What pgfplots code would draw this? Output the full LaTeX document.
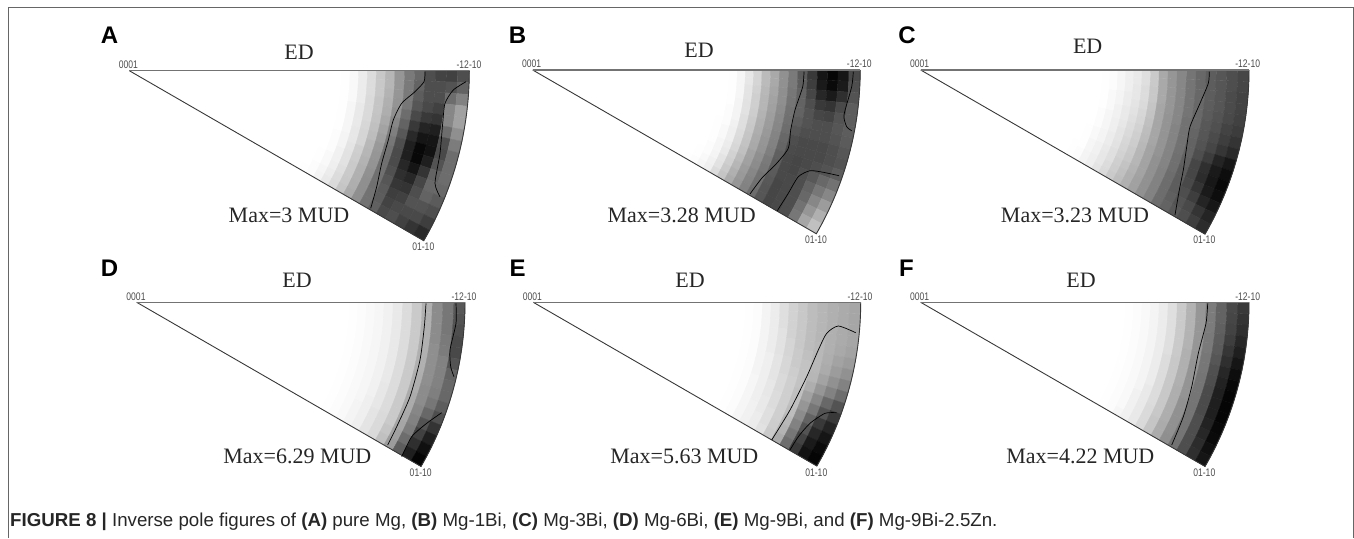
\documentclass[border=0pt]{standalone}
\usepackage{pgfplots}
\pgfplotsset{compat=1.18}
\usepackage{fontspec}
\setmainfont{Liberation Serif}
\newfontfamily\sansf{Liberation Sans}
\definecolor{edgeA}{gray}{0.45}
\definecolor{edgeB}{gray}{0.22}
\definecolor{framec}{gray}{0.40}
% values: 18 rings (2 degree bins, 54..90) x 15 sectors (2 degree bins, 0..30); 0 black, 99 white
\newcommand\ipfdraw[4]{%
  \addplot[surf,shader=flat corner,mesh/cols=16,mesh/rows=19,point meta=explicit]
    table[row sep=\\,header=false,meta index=0,
      x expr={#2+#4*tan((54+2*floor((\coordindex+0.5)/16))/2)*cos(2*(\coordindex-16*floor((\coordindex+0.5)/16)))},
      y expr={#3+#4*tan((54+2*floor((\coordindex+0.5)/16))/2)*sin(2*(\coordindex-16*floor((\coordindex+0.5)/16)))}]{#1};
}
\newcommand\ipf[4]{%
  \gdef\tbl{}%
  \foreach \rw in {#4}{%
    \foreach \vv in \rw {\xdef\tbl{\tbl\vv\noexpand\\}}%
    \xdef\tbl{\tbl 0\noexpand\\}%
  }%
  \foreach \vv in {1,...,16}{\xdef\tbl{\tbl 0\noexpand\\}}%
  \expandafter\ipfdraw\expandafter{\tbl}{#1}{#2}{#3}%
  \draw[edgeB,line width=.9pt] (axis cs:#1,#2) -- ++(-30:#3pt) arc[start angle=-30,end angle=0,radius=#3pt];
  \draw[edgeA,line width=1.3pt] (axis cs:#1,#2) -- ++(#3pt,0);
}
\newcommand\lab[3]{\node[font=\sansf\fontsize{11}{12}\selectfont,text=black!70,xscale=.78,inner sep=0] at (axis cs:#1,#2) {#3};}
\newcommand\ser[3]{\node[font=\fontsize{22}{24}\selectfont,text=black!85,inner sep=0] at (axis cs:#1,#2) {#3};}
\newcommand\plet[3]{\node[font=\sansf\bfseries\fontsize{24}{26}\selectfont,inner sep=0] at (axis cs:#1,#2) {#3};}
\begin{document}
\begin{tikzpicture}
\path[use as bounding box] (0,0) rectangle (1354pt,538pt);
\begin{axis}[at={(0,0)},anchor=south west,scale only axis,width=1354pt,height=538pt,
  xmin=0,xmax=1354,ymin=0,ymax=538,y dir=reverse,hide axis,clip=false,
  colormap={g}{gray(0cm)=(0); gray(1cm)=(1)},point meta min=0,point meta max=99]
% A
\ipf{129.3}{70.7}{340}{
{99,99,99,99,99,99,99,99,99,99,99,99,99,99,99},
{99,99,99,99,99,99,99,99,99,99,99,99,99,99,99},
{99,99,99,99,99,99,99,99,99,99,99,99,99,99,99},
{99,99,99,99,99,99,99,99,99,99,99,99,99,99,98},
{99,99,99,99,99,99,99,99,99,99,99,98,98,97,97},
{98,98,98,98,98,98,98,98,97,97,97,96,96,95,94},
{96,96,96,96,95,95,95,95,94,94,93,93,92,91,90},
{91,91,91,91,90,90,90,89,89,88,87,87,86,85,84},
{85,85,85,84,84,84,83,82,82,80,79,78,78,77,76},
{77,77,77,76,76,75,74,73,71,70,69,68,68,67,66},
{70,70,69,68,67,65,63,61,59,58,57,56,55,55,55},
{58,58,58,57,55,52,49,46,44,43,43,43,43,44,44},
{47,47,47,46,42,38,34,30,29,29,31,33,35,36,37},
{40,38,36,33,28,22,16,12,12,15,18,21,24,26,28},
{30,30,30,28,22,14,8,3,3,8,15,20,25,28,30},
{26,30,30,25,20,12,8,7,12,20,27,30,32,28,25},
{25,32,42,52,52,42,30,28,32,38,40,38,32,28,20},
{30,38,50,62,62,55,48,42,42,42,40,35,30,24,16}}
% B
\ipf{532.7}{70}{327.5}{
{99,99,99,99,99,99,99,99,99,99,99,99,99,99,99},
{99,99,99,99,99,99,99,99,99,99,99,99,99,99,98},
{99,99,99,99,99,99,99,99,99,99,99,99,98,98,97},
{99,99,99,99,99,99,99,98,98,98,98,97,97,96,95},
{98,98,98,98,98,97,97,97,96,96,95,95,94,93,92},
{95,95,95,95,94,94,94,93,92,92,91,90,88,87,85},
{89,89,88,88,87,87,86,86,85,84,83,81,80,78,76},
{82,82,81,80,80,79,78,77,76,75,74,72,70,68,66},
{72,72,71,70,70,69,68,67,66,65,63,62,60,59,58},
{65,65,64,63,62,61,60,59,58,57,55,54,52,51,50},
{56,56,55,55,54,53,52,51,50,49,47,46,44,43,42},
{47,47,46,45,44,43,42,40,39,37,36,35,34,33,33},
{35,36,38,38,38,36,33,30,29,28,28,28,27,27,27},
{22,24,27,30,32,32,30,28,28,27,27,28,28,28,28},
{8,10,15,22,27,30,30,28,28,28,30,30,30,30,30},
{2,4,10,20,26,30,30,28,28,30,34,38,40,44,46},
{8,10,18,28,32,33,32,30,30,32,40,46,52,58,64},
{28,30,32,36,36,36,35,33,32,36,44,52,60,68,74}}
% C
\ipf{920.7}{70}{328.3}{
{99,99,99,99,99,99,99,99,99,99,99,99,98,98,98},
{99,99,99,99,99,99,99,99,99,98,98,98,98,97,97},
{98,98,98,98,98,98,97,97,97,96,96,95,95,94,94},
{97,97,97,96,96,96,95,95,95,94,94,93,93,92,92},
{95,95,95,94,94,93,93,92,92,91,91,90,89,89,88},
{92,92,92,91,91,90,90,89,88,88,87,86,86,85,84},
{90,90,89,89,88,87,86,85,84,83,82,81,80,79,78},
{86,86,85,85,84,83,82,81,80,79,78,77,75,74,73},
{78,78,77,77,76,75,74,73,72,71,70,70,69,68,68},
{65,65,65,65,64,64,64,64,64,63,63,63,63,62,62},
{58,58,58,58,58,57,57,57,57,57,56,56,56,56,56},
{52,52,52,52,52,52,51,51,51,51,51,50,50,50,50},
{45,45,45,45,45,44,44,44,44,43,43,42,42,42,42},
{40,40,40,40,40,40,39,38,38,37,36,36,36,37,38},
{36,36,36,36,35,34,33,32,30,27,27,28,30,32,34},
{33,33,33,33,32,31,29,27,23,18,17,20,24,28,30},
{30,30,29,29,28,26,24,21,14,10,9,10,14,20,24},
{27,27,26,26,25,23,20,16,9,5,3,5,9,14,17}}
% D
\ipf{136.7}{302.3}{328.3}{
{99,99,99,99,99,99,99,99,99,99,99,99,99,99,99},
{99,99,99,99,99,99,99,99,99,99,99,99,99,99,99},
{99,99,99,99,99,99,99,99,99,99,99,99,99,99,99},
{99,99,99,99,99,99,99,99,99,99,99,99,99,99,99},
{99,99,99,99,99,99,99,99,99,99,99,99,99,99,99},
{99,99,99,99,99,99,99,99,99,99,99,99,99,99,99},
{98,98,98,98,98,98,98,98,98,98,98,98,98,98,98},
{97,97,97,97,97,97,97,97,97,97,97,97,97,97,97},
{96,96,96,96,96,96,96,96,96,96,96,96,96,96,96},
{95,95,95,95,95,95,95,95,95,95,95,95,94,94,94},
{93,93,93,93,93,93,93,93,93,93,93,92,92,92,92},
{90,90,90,90,90,90,90,90,90,89,89,89,88,88,88},
{85,85,85,85,85,85,85,85,85,85,85,85,84,84,84},
{78,78,78,78,78,78,78,78,78,78,78,78,78,76,74},
{68,68,68,68,68,68,68,67,67,66,66,65,64,62,60},
{54,54,54,54,55,55,55,55,54,54,52,50,48,42,36},
{46,46,46,47,48,50,50,50,49,46,40,32,25,18,12},
{34,32,30,28,28,32,38,40,40,36,30,20,12,6,2}}
% E
\ipf{533.3}{302.3}{327.4}{
{99,99,99,99,99,99,99,99,99,99,99,99,99,99,99},
{99,99,99,99,99,99,99,99,99,99,99,99,99,99,99},
{99,99,99,99,99,99,99,99,99,99,99,99,99,99,99},
{99,99,99,99,99,99,99,99,99,99,99,99,99,99,99},
{99,99,99,99,99,99,99,99,99,99,99,99,99,99,99},
{99,99,99,99,99,99,99,99,99,99,99,99,99,99,99},
{98,98,98,98,98,98,98,98,98,98,98,98,98,98,98},
{97,97,97,97,97,97,97,97,97,97,97,97,97,97,97},
{94,94,94,94,94,94,94,94,94,95,95,95,95,95,95},
{91,91,91,91,91,91,92,92,92,92,92,92,93,93,93},
{86,86,86,87,87,87,88,88,88,89,89,90,90,91,91},
{81,81,81,81,82,82,83,83,84,84,85,85,86,86,87},
{77,77,77,77,77,78,78,79,80,80,80,80,80,79,78},
{73,73,73,73,73,74,75,75,75,74,74,73,71,69,66},
{70,70,70,70,71,71,71,70,67,62,58,54,50,46,42},
{68,68,68,68,68,67,66,63,58,52,46,38,32,26,22},
{66,66,66,66,65,63,60,56,50,40,32,22,15,10,7},
{64,64,64,64,63,60,56,50,42,32,22,14,8,4,2}}
% F
\ipf{920.7}{302.3}{328.3}{
{99,99,99,99,99,99,99,99,99,99,99,99,99,99,99},
{99,99,99,99,99,99,99,99,99,99,99,99,99,99,99},
{99,99,99,99,99,99,99,99,99,99,99,99,99,99,99},
{99,99,99,99,99,99,99,99,99,99,99,99,99,99,99},
{99,99,99,99,99,99,99,99,99,99,99,99,99,99,99},
{98,98,98,98,98,98,98,98,98,98,98,98,98,98,98},
{97,97,97,97,97,97,97,97,97,97,97,97,97,97,97},
{96,96,96,96,96,96,96,96,96,96,96,96,96,96,95},
{94,94,94,94,94,94,94,94,94,94,94,93,93,93,93},
{91,91,91,91,91,91,91,91,91,91,90,90,90,90,90},
{86,86,86,86,86,86,85,85,85,85,85,85,84,84,84},
{78,78,78,78,78,78,77,77,77,77,77,77,77,76,76},
{69,69,69,69,69,68,68,68,68,67,67,67,67,66,66},
{58,58,58,58,58,58,57,57,57,57,56,56,56,56,55},
{48,48,48,47,47,46,46,45,45,45,45,45,45,45,44},
{38,38,37,36,35,33,31,30,29,29,29,30,30,30,30},
{28,27,26,24,21,18,15,13,12,12,12,13,15,17,18},
{22,20,18,15,12,8,5,3,2,2,2,3,4,6,8}}
% contours
\addplot[black,line width=.7pt,smooth,tension=.4] coordinates {(425,71.7)(424,81.7)(415,91.7)(401.7,103.3)(393.3,120)(388.3,140)(381.7,163.3)(376.7,186.7)(370.7,208.3)};
\addplot[black,line width=.7pt,smooth,tension=.4] coordinates {(466,81.7)(453.3,90)(445,103.3)(442.7,123.3)(440,153.3)(435,183.3)(440,196.7)};
\addplot[black,line width=.7pt,smooth,tension=.4] coordinates {(804,71.7)(802.7,86.7)(795,110)(790.7,130)(788.3,148.3)(776.7,163.3)(761.7,178.3)(750,194)};
\addplot[black,line width=.7pt,smooth,tension=.4] coordinates {(853.3,71.7)(851.7,86.7)(844,115)(846.7,126.7)(851.7,130.7)};
\addplot[black,line width=.7pt,smooth,tension=.4] coordinates {(839,175.7)(823.3,172.3)(810,170.7)(798.3,176.7)(788.3,193.3)(777.3,210.7)};
\addplot[black,line width=.7pt,smooth,tension=.4] coordinates {(1209.3,71.7)(1208.3,83.3)(1200,103.3)(1190,126.7)(1186.7,146.7)(1183.3,170)(1179.3,190)(1175,215)};
\addplot[black,line width=.7pt,smooth,tension=.4] coordinates {(426,303.3)(424.3,326.7)(420,360)(410,396.7)(396.7,426.7)(387.7,445)};
\addplot[black,line width=.7pt,smooth,tension=.4] coordinates {(456,303.3)(456,323.3)(450,350)(450.7,366.7)(454,376.7)};
\addplot[black,line width=.7pt,smooth,tension=.4] coordinates {(441.7,412.7)(426.7,423.3)(411.7,436.7)(401.7,456.7)};
\addplot[black,line width=.7pt,smooth,tension=.4] coordinates {(855.7,332.7)(838.3,326)(826.7,333.3)(818.3,350)(806.7,376.7)(790,410)(771.7,440)};
\addplot[black,line width=.7pt,smooth,tension=.4] coordinates {(836.7,412.7)(825,413.3)(810,423.3)(798.3,436.7)(790,450)};
\addplot[black,line width=.7pt,smooth,tension=.4] coordinates {(1207.7,303.3)(1206,323.3)(1198.3,353.3)(1191.7,386.7)(1183.3,416.7)(1171.7,445)};
% frame
\draw[framec,line width=1pt] (axis cs:8.3,538)--(axis cs:8.3,7.7)--(axis cs:1353.3,7.7)--(axis cs:1353.3,538);
% panel letters
\plet{109.5}{35}{A}\plet{517.5}{35}{B}\plet{907}{35}{C}
\plet{109.5}{268}{D}\plet{517.5}{268}{E}\plet{906.5}{268}{F}
% ED
\ser{299}{52.7}{ED}\ser{699}{50}{ED}\ser{1087.7}{46.7}{ED}
\ser{297}{280}{ED}\ser{690}{280}{ED}\ser{1081}{280}{ED}
% Max
\ser{289}{215.7}{Max=3 MUD}\ser{681.7}{215.7}{Max=3.28 MUD}\ser{1075}{215.7}{Max=3.23 MUD}
\ser{297.3}{456.7}{Max=6.29 MUD}\ser{684.3}{456.7}{Max=5.63 MUD}\ser{1080.3}{456.7}{Max=4.22 MUD}
% small
\lab{128.3}{65}{0001}\lab{469}{65}{-12-10}\lab{423.3}{246.7}{01-10}
\lab{531.7}{64}{0001}\lab{859.3}{64}{-12-10}\lab{816}{240}{01-10}
\lab{919.7}{64}{0001}\lab{1247.7}{64}{-12-10}\lab{1204.3}{240}{01-10}
\lab{136}{296.7}{0001}\lab{464}{296.7}{-12-10}\lab{420.7}{472.3}{01-10}
\lab{532.3}{296.7}{0001}\lab{860}{296.7}{-12-10}\lab{816.3}{472.3}{01-10}
\lab{919.7}{296.7}{0001}\lab{1247.7}{296.7}{-12-10}\lab{1204.3}{472.3}{01-10}
% caption
\node[anchor=west,inner sep=0,font=\sansf\fontsize{18.7}{20}\selectfont,text=black!85] at (axis cs:10,522)
 {\textbf{FIGURE 8 |} Inverse pole figures of \textbf{(A)} pure Mg, \textbf{(B)} Mg-1Bi, \textbf{(C)} Mg-3Bi, \textbf{(D)} Mg-6Bi, \textbf{(E)} Mg-9Bi, and \textbf{(F)} Mg-9Bi-2.5Zn.};
\end{axis}
\end{tikzpicture}
\end{document}
